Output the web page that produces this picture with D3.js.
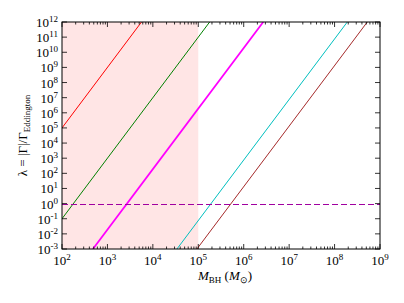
<!DOCTYPE html>
<html>
<head>
<meta charset="utf-8">
<script src="https://cdn.jsdelivr.net/npm/d3@7"></script>
<style>
  body { margin: 0; background: #fff; }
</style>
</head>
<body>
<svg id="chart" width="404" height="303"></svg>
<script>
// decades shown on each axis
var xDecades = [2, 3, 4, 5, 6, 7, 8, 9];
var yDecades = [-3, -2, -1, 0, 1, 2, 3, 4, 5, 6, 7, 8, 9, 10, 11, 12];

// each line: log10(lambda) = 4 * (log10(M) - crossing), crossing = log10 M where lambda = 1
var lineNames = ['red', 'green', 'magenta', 'cyan', 'brown'];
var lineCross = [0.75, 2.25, 3.43, 5.28, 5.72];
var lineColors = ['#ff0000', '#008000', '#ff00ff', '#00bfbf', '#a52a2a'];
var lineWidths = [1, 1, 1.8, 1, 1];
var slope = 4;

var shadeRange = [1e2, 1e5];
var eddingtonLevel = 1;

var serif = 'Liberation Serif';

var margin = {left: 62, top: 22, right: 24, bottom: 54};
var width = 404 - margin.left - margin.right,
    height = 303 - margin.top - margin.bottom;

var x = d3.scaleLog().domain([1e2, 1e9]).range([0, width]);
var y = d3.scaleLog().domain([1e-3, 1e12]).range([height, 0]);

var svg = d3.select('#chart');
var g = svg.append('g').attr('transform', 'translate(' + margin.left + ',' + margin.top + ')');

g.append('clipPath').attr('id', 'clip')
    .append('rect').attr('width', width).attr('height', height);

var plot = g.append('g').attr('clip-path', 'url(#clip)');

// shaded mass range
plot.append('rect')
    .attr('x', x(shadeRange[0]))
    .attr('y', 0)
    .attr('width', x(shadeRange[1]) - x(shadeRange[0]))
    .attr('height', height)
    .attr('fill', '#ffe5e5');

// lines
var line = d3.line().x(function(d) { return x(d[0]) }).y(function(d) { return y(d[1]) });
lineNames.forEach(function(name, i) {
    var c = lineCross[i];
    var lo = c + (-3) / slope, hi = c + 12 / slope;
    var pts = [[Math.pow(10, lo), 1e-3], [Math.pow(10, hi), 1e12]];
    plot.append('path')
        .attr('class', 'line-' + name)
        .attr('d', line(pts))
        .attr('fill', 'none')
        .attr('stroke', lineColors[i])
        .attr('stroke-width', lineWidths[i]);
});

// Eddington level
var ey = Math.round(y(eddingtonLevel)) + 0.5;
plot.append('line')
    .attr('x1', 0).attr('x2', width)
    .attr('y1', ey).attr('y2', ey)
    .attr('stroke', '#a000a0')
    .attr('stroke-width', 1.1)
    .attr('stroke-dasharray', '6,3');

// ticks (inward, all four sides)
var xMinor = [];
xDecades.slice(0, -1).forEach(function(d) {
    for (var k = 2; k <= 9; k++) xMinor.push(k * Math.pow(10, d));
});
var ticks = g.append('g').attr('stroke', '#000').attr('stroke-width', 0.8);
xDecades.forEach(function(d) {
    var px = x(Math.pow(10, d));
    ticks.append('line').attr('x1', px).attr('x2', px).attr('y1', height).attr('y2', height - 5);
    ticks.append('line').attr('x1', px).attr('x2', px).attr('y1', 0).attr('y2', 5);
});
xMinor.forEach(function(v) {
    var px = x(v);
    ticks.append('line').attr('x1', px).attr('x2', px).attr('y1', height).attr('y2', height - 2.5);
    ticks.append('line').attr('x1', px).attr('x2', px).attr('y1', 0).attr('y2', 2.5);
});
yDecades.forEach(function(d) {
    var py = y(Math.pow(10, d));
    ticks.append('line').attr('x1', 0).attr('x2', 5).attr('y1', py).attr('y2', py);
    ticks.append('line').attr('x1', width).attr('x2', width - 5).attr('y1', py).attr('y2', py);
});

// frame
g.append('rect').attr('width', width).attr('height', height)
    .attr('fill', 'none').attr('stroke', '#000').attr('stroke-width', 1);

// tick labels
xDecades.forEach(function(d) {
    var t = g.append('text')
        .attr('x', x(Math.pow(10, d)))
        .attr('y', height + 16)
        .attr('text-anchor', 'middle')
        .attr('font-family', serif)
        .attr('font-size', 13);
    t.append('tspan').text('10');
    t.append('tspan').attr('dy', -5).attr('font-size', 9).text(d);
});
yDecades.forEach(function(d) {
    var t = g.append('text')
        .attr('x', -4)
        .attr('y', y(Math.pow(10, d)) + 5)
        .attr('text-anchor', 'end')
        .attr('font-family', serif)
        .attr('font-size', 13);
    t.append('tspan').text('10');
    t.append('tspan').attr('dy', -5).attr('font-size', 9).text(d);
});

// axis labels
var xl = g.append('text')
    .attr('x', width / 2 + 4)
    .attr('y', height + 31)
    .attr('text-anchor', 'middle')
    .attr('font-family', serif)
    .attr('font-size', 13);
xl.append('tspan').attr('font-style', 'italic').text('M');
xl.append('tspan').attr('dy', 3).attr('font-size', 9).text('BH');
xl.append('tspan').attr('dy', -3).text(' (');
xl.append('tspan').attr('font-style', 'italic').text('M');
xl.append('tspan').attr('dy', 3).attr('font-size', 9).text('\u2299');
xl.append('tspan').attr('dy', -3).text(')');

var yl = svg.append('text')
    .attr('transform', 'translate(27,' + (margin.top + height / 2) + ') rotate(-90)')
    .attr('text-anchor', 'middle')
    .attr('font-family', serif)
    .attr('font-size', 13);
yl.append('tspan').text('\u03bb = |\u0393|/\u0393');
yl.append('tspan').attr('dy', 3).attr('font-size', 9).text('Eddington');
</script>
</body>
</html>
